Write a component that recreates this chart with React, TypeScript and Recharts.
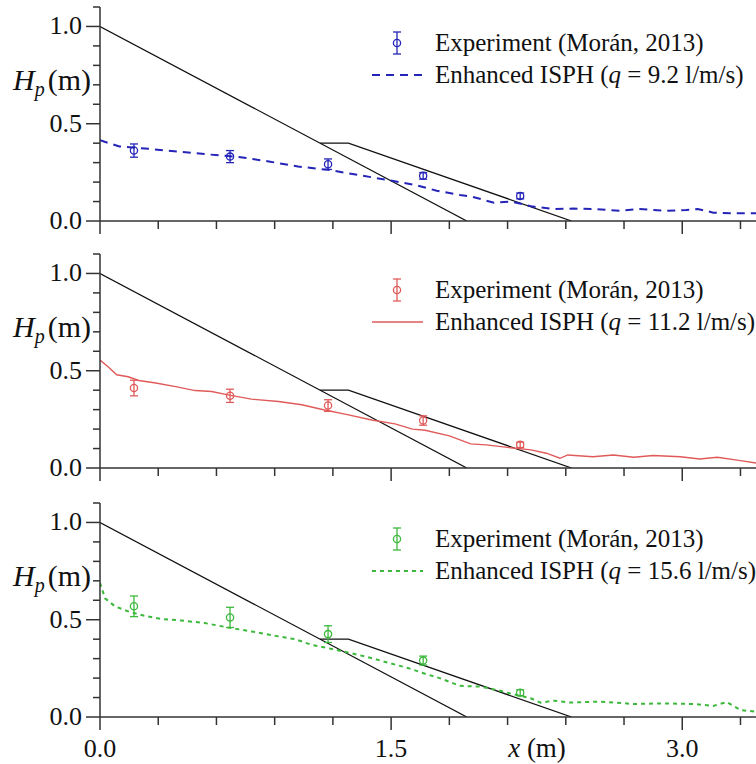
import React from 'react';
import { ComposedChart, Line, Scatter, ErrorBar, XAxis, YAxis } from 'recharts';

// x positions of the measured points (m), shared by all three panels
const EXP_X = [0.175, 0.67, 1.175, 1.665, 2.165];

// q = 9.2 l/m/s
const EXP1_Y = [0.362, 0.331, 0.292, 0.232, 0.129];
const EXP1_ERR = [0.034, 0.031, 0.027, 0.017, 0.015];
const SIM1_X = [0, 0.1, 0.25, 0.4, 0.56, 0.71, 0.87, 1.02, 1.175, 1.33, 1.48, 1.62, 1.735, 1.855, 1.92, 2.03, 2.12, 2.23, 2.34, 2.44, 2.54, 2.68, 2.78, 2.92, 3.02, 3.08, 3.16, 3.26, 3.38];
const SIM1_Y = [0.415, 0.383, 0.371, 0.357, 0.342, 0.33, 0.306, 0.28, 0.263, 0.237, 0.211, 0.186, 0.156, 0.134, 0.124, 0.094, 0.1, 0.074, 0.062, 0.064, 0.062, 0.053, 0.062, 0.052, 0.057, 0.062, 0.043, 0.04, 0.04];

// q = 11.2 l/m/s
const EXP2_Y = [0.411, 0.371, 0.321, 0.244, 0.119];
const EXP2_ERR = [0.04, 0.034, 0.03, 0.024, 0.014];
const SIM2_X = [0, 0.04, 0.086, 0.145, 0.2, 0.28, 0.39, 0.49, 0.575, 0.66, 0.78, 0.92, 1.04, 1.14, 1.28, 1.4, 1.52, 1.61, 1.675, 1.8, 1.91, 1.99, 2.1, 2.22, 2.3, 2.37, 2.41, 2.54, 2.645, 2.75, 2.85, 2.99, 3.09, 3.18, 3.3, 3.38];
const SIM2_Y = [0.555, 0.522, 0.479, 0.469, 0.45, 0.438, 0.418, 0.398, 0.393, 0.376, 0.354, 0.342, 0.325, 0.302, 0.273, 0.247, 0.227, 0.2, 0.194, 0.165, 0.124, 0.119, 0.106, 0.093, 0.076, 0.05, 0.067, 0.058, 0.067, 0.055, 0.064, 0.058, 0.046, 0.055, 0.038, 0.026];

// q = 15.6 l/m/s
const EXP3_Y = [0.569, 0.512, 0.426, 0.29, 0.125];
const EXP3_ERR = [0.053, 0.052, 0.043, 0.023, 0.015];
const SIM3_X = [0, 0.026, 0.077, 0.145, 0.23, 0.32, 0.42, 0.54, 0.66, 0.78, 0.9, 1.005, 1.09, 1.175, 1.28, 1.38, 1.48, 1.59, 1.675, 1.75, 1.855, 1.96, 2.045, 2.11, 2.22, 2.27, 2.34, 2.42, 2.58, 2.75, 2.89, 3.06, 3.16, 3.23, 3.3, 3.38];
const SIM3_Y = [0.69, 0.61, 0.569, 0.543, 0.52, 0.503, 0.496, 0.483, 0.46, 0.44, 0.418, 0.4, 0.371, 0.354, 0.331, 0.308, 0.28, 0.251, 0.222, 0.2, 0.16, 0.156, 0.139, 0.122, 0.096, 0.074, 0.084, 0.074, 0.079, 0.067, 0.07, 0.067, 0.057, 0.077, 0.036, 0.027];

// structure outline (black lines)
const SLOPE_X = [0, 1.89];
const SLOPE_Y = [1.0, 0];
const BERM_X = [1.134, 1.28, 2.43];
const BERM_Y = [0.4, 0.4, 0];

const X_TICKS = [0, 0.3, 0.6, 0.9, 1.2, 1.5, 1.8, 2.1, 2.4, 2.7, 3.0, 3.3];
const X_MAJOR = [0, 1.5, 3.0];
const Y_TICKS = [0, 0.1, 0.2, 0.3, 0.4, 0.5, 0.6, 0.7, 0.8, 0.9, 1.0, 1.1];
const Y_MAJOR = [0, 0.5, 1.0];
const Q_LABELS = ['9.2', '11.2', '15.6'];

const FONT_NAME = 'Times New Roman';
const SERIF = { fontFamily: FONT_NAME };
const AXIS = '#333';
const X_MAX = 3.38;
const PLOT_H = 214;
const TOP_PAD = 6;
const X_AXIS_H = 50;
const CHART_W = 756;
const CHART_H = TOP_PAD + PLOT_H + X_AXIS_H;
const ZERO_Y = [221, 468, 717];

const isMajor = (v: number, list: number[]) => list.some((m) => Math.abs(m - v) < 1e-6);
const toPoints = (xs: number[], ys: number[]) => xs.map((x, i) => ({ x, y: ys[i] }));

const XTick = ({ x, y, payload, showLabel }: any) => {
  const major = isMajor(payload.value, X_MAJOR);
  return (
    <g>
      <line x1={x} x2={x} y1={y} y2={y + (major ? 13 : 8)} stroke={AXIS} strokeWidth={1.5} />
      {showLabel && major && (
        <text x={x} y={y + 40} textAnchor="middle" fontFamily={FONT_NAME} style={SERIF} fontSize={26} fill="#111">
          {payload.value.toFixed(1)}
        </text>
      )}
    </g>
  );
};

const YTick = ({ x, y, payload }: any) => {
  const major = isMajor(payload.value, Y_MAJOR);
  return (
    <g>
      <line x1={x - (major ? 14 : 7)} x2={x} y1={y} y2={y} stroke={AXIS} strokeWidth={1.5} />
      {major && (
        <text x={x - 18} y={y + 8} textAnchor="end" fontFamily={FONT_NAME} style={SERIF} fontSize={26} fill="#111">
          {payload.value.toFixed(1)}
        </text>
      )}
    </g>
  );
};

const PANELS = [
  { color: '#2424b8', dash: '8 6', width: 2, simX: SIM1_X, simY: SIM1_Y, expY: EXP1_Y, expErr: EXP1_ERR },
  { color: '#e05a5a', dash: undefined, width: 1.4, simX: SIM2_X, simY: SIM2_Y, expY: EXP2_Y, expErr: EXP2_ERR },
  { color: '#3cb83c', dash: '4 4', width: 2, simX: SIM3_X, simY: SIM3_Y, expY: EXP3_Y, expErr: EXP3_ERR },
];

const Panel = ({ index }: { index: number }) => {
  const p = PANELS[index];
  const expData = EXP_X.map((x, i) => ({ x, y: p.expY[i], err: p.expErr[i] }));
  const showLabel = index === 2;
  return (
    <div style={{ position: 'absolute', left: 0, top: ZERO_Y[index] - PLOT_H - TOP_PAD }}>
      <ComposedChart width={CHART_W} height={CHART_H} margin={{ top: TOP_PAD, right: 0, bottom: 0, left: 0 }}>
        <XAxis
          type="number"
          dataKey="x"
          domain={[0, X_MAX]}
          allowDataOverflow
          ticks={X_TICKS}
          interval={0}
          height={X_AXIS_H}
          tickSize={0}
          tickMargin={0}
          tickLine={false}
          axisLine={{ stroke: AXIS, strokeWidth: 1.5 }}
          tick={(props: any) => <XTick {...props} showLabel={showLabel} />}
        />
        <YAxis
          type="number"
          domain={[0, 1.1]}
          allowDataOverflow
          ticks={Y_TICKS}
          interval={0}
          width={100}
          tickSize={0}
          tickMargin={0}
          tickLine={false}
          axisLine={{ stroke: AXIS, strokeWidth: 1.5 }}
          tick={(props: any) => <YTick {...props} />}
        />
        <Line data={toPoints(SLOPE_X, SLOPE_Y)} dataKey="y" type="linear" stroke="#111" strokeWidth={1.3} dot={false} activeDot={false} isAnimationActive={false} />
        <Line data={toPoints(BERM_X, BERM_Y)} dataKey="y" type="linear" stroke="#111" strokeWidth={1.3} dot={false} activeDot={false} isAnimationActive={false} />
        <Line
          data={toPoints(p.simX, p.simY)}
          dataKey="y"
          type="linear"
          stroke={p.color}
          strokeWidth={p.width}
          strokeDasharray={p.dash}
          dot={false}
          activeDot={false}
          isAnimationActive={false}
        />
        <Scatter
          data={expData}
          dataKey="y"
          isAnimationActive={false}
          shape={(s: any) => <circle cx={s.cx} cy={s.cy} r={3.6} fill="none" stroke={p.color} strokeWidth={1.3} />}
        >
          <ErrorBar dataKey="err" direction="y" width={4} stroke={p.color} strokeWidth={1.3} />
        </Scatter>
      </ComposedChart>
    </div>
  );
};

const LegendAndLabels = () => (
  <svg width={CHART_W} height={764} fontFamily={FONT_NAME} style={{ position: 'absolute', left: 0, top: 0, pointerEvents: 'none', fontFamily: FONT_NAME }}>
    {PANELS.map((p, i) => {
      const off = ZERO_Y[i] - ZERO_Y[0];
      return (
        <g key={i} fill="#111">
          {/* error-bar marker */}
          <line x1={397} x2={397} y1={32 + off} y2={54 + off} stroke={p.color} strokeWidth={1.3} />
          <line x1={393} x2={401} y1={32 + off} y2={32 + off} stroke={p.color} strokeWidth={1.3} />
          <line x1={393} x2={401} y1={54 + off} y2={54 + off} stroke={p.color} strokeWidth={1.3} />
          <circle cx={397} cy={43 + off} r={3.6} fill="none" stroke={p.color} strokeWidth={1.3} />
          <text x={435} y={51 + off} fontSize={25} style={SERIF}>Experiment (Morán, 2013)</text>
          <line x1={372} x2={423} y1={75 + off} y2={75 + off} stroke={p.color} strokeWidth={p.width} strokeDasharray={p.dash} />
          <text x={435} y={83 + off} fontSize={25} style={SERIF}>
            Enhanced ISPH (<tspan fontStyle="italic">q</tspan> = {Q_LABELS[i]} l/m/s)
          </text>
          {/* y-axis title */}
          <text x={13} y={90 + off} fontSize={30} style={SERIF}>
            <tspan fontStyle="italic">H</tspan>
            <tspan fontStyle="italic" fontSize={20} dy={6}>p</tspan>
            <tspan dx={3} dy={-6}>(m)</tspan>
          </text>
        </g>
      );
    })}
    <text x={537} y={757} textAnchor="middle" fontSize={27} fill="#111" style={SERIF}>
      <tspan fontStyle="italic">x</tspan> (m)
    </text>
  </svg>
);

export default function App() {
  return (
    <div style={{ position: 'absolute', left: 0, top: 0, width: CHART_W, height: 764, overflow: 'hidden', background: '#fff', fontFamily: FONT_NAME }}>
      <Panel index={0} />
      <Panel index={1} />
      <Panel index={2} />
      <LegendAndLabels />
    </div>
  );
}
